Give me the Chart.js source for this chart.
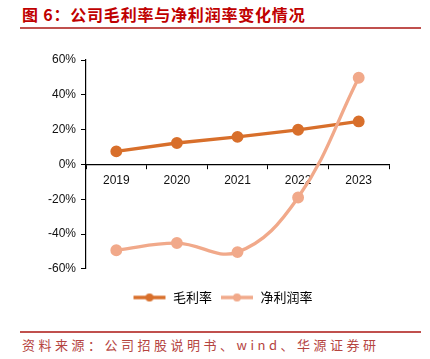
<!DOCTYPE html>
<html><head><meta charset="utf-8">
<script src="https://cdn.jsdelivr.net/npm/chart.js@4.4.1/dist/chart.umd.min.js"></script>
<style>
html,body{margin:0;padding:0;background:#fff;}
body{width:430px;height:359px;position:relative;overflow:hidden;}
#title{position:absolute;left:22px;top:4px;font-family:"Noto Sans CJK SC";font-weight:bold;font-size:16px;color:#C00000;white-space:nowrap;line-height:20px;letter-spacing:0.8px;}
#tline{position:absolute;left:20px;top:27px;width:401px;height:2px;background:#C0504D;}
#sline{position:absolute;left:20px;top:331px;width:401px;height:1.5px;background:#C0504D;}
#source{position:absolute;left:22px;top:336px;font-family:"Noto Sans CJK SC";font-size:13px;color:#B5443F;white-space:nowrap;letter-spacing:3.5px;line-height:18px;}
#wrap{position:absolute;left:0;top:36px;width:430px;height:278px;}
</style></head>
<body>
<div id="title">图 6：公司毛利率与净利润率变化情况</div>
<div id="tline"></div>
<div id="wrap"><canvas id="c"></canvas></div>
<div id="sline"></div>
<div id="source">资料来源：公司招股说明书、wind、华源证券研</div>
<script>
const categories = ['2019','2020','2021','2022','2023'];
const grossMargin = [7.5, 12.3, 15.8, 19.9, 24.7];
const netMargin = [-49.3, -45.2, -50.4, -19.0, 49.8];
const seriesNames = ['毛利率','净利润率'];
const yTicks = [-60, -40, -20, 0, 20, 40, 60];

const colors = ['#D86F2B', '#F1A98A'];

function legendIcon(color){
  const c = document.createElement('canvas');
  c.width = 34; c.height = 10;
  const g = c.getContext('2d');
  g.strokeStyle = color; g.lineWidth = 3.5;
  g.beginPath(); g.moveTo(1,5); g.lineTo(33,5); g.stroke();
  g.fillStyle = color; g.beginPath(); g.arc(17,5,4,0,Math.PI*2); g.fill();
  return c;
}
const icons = colors.map(legendIcon);

const legendShift = {
  id: 'legendShift',
  afterLayout(chart) {
    if (chart.legend) { chart.legend.left += 28; chart.legend.right += 28; }
  }
};

new Chart(document.getElementById('c'), {
  type: 'line',
  data: {
    labels: categories,
    datasets: [
      {label: seriesNames[0], data: grossMargin, borderColor: colors[0], backgroundColor: colors[0],
       borderWidth: 3.3, pointRadius: 4.3, pointHoverRadius: 4.3, tension: 0, order: 1},
      {label: seriesNames[1], data: netMargin, borderColor: colors[1], backgroundColor: colors[1],
       borderWidth: 3.3, pointRadius: 4.3, pointHoverRadius: 4.3, tension: 0.4, order: 0}
    ]
  },
  plugins: [legendShift],
  options: {
    responsive: true, maintainAspectRatio: false, animation: false,
    layout: {padding: {left: 0, right: 41, top: 24, bottom: 0}},
    plugins: {
      tooltip: {enabled: false},
      legend: {
        position: 'bottom',
        title: {display: true, text: ' ', font: {size: 1}, padding: {top: 0, bottom: 13}},
        labels: {
          usePointStyle: true, pointStyleWidth: 34, boxHeight: 10,
          padding: 8, color: '#000',
          font: {family: '"Noto Sans CJK SC"', size: 13},
          generateLabels(chart) {
            const items = Chart.defaults.plugins.legend.labels.generateLabels(chart);
            items.sort((a, b) => a.datasetIndex - b.datasetIndex);
            items.forEach(it => { it.pointStyle = icons[it.datasetIndex]; });
            return items;
          }
        }
      }
    },
    scales: {
      x: {
        position: {y: 0},
        offset: true,
        grid: {drawOnChartArea: false, drawTicks: true, tickLength: 4, color: '#000', offset: true},
        border: {display: true, color: '#000', width: 1.2},
        ticks: {color: '#111', font: {family: '"Liberation Sans"', size: 12}, padding: 5, maxRotation: 0}
      },
      y: {
        min: -60, max: 60,
        afterFit(s) { s.width = 86; },
        afterBuildTicks(s) { s.ticks = yTicks.map(v => ({value: v})); },
        grid: {drawOnChartArea: false, drawTicks: true, tickLength: 5, color: '#000'},
        border: {display: true, color: '#000', width: 1.2},
        ticks: {color: '#111', font: {family: '"Liberation Sans"', size: 12}, padding: 5,
          callback: v => v + '%'}
      }
    }
  }
});
</script>
</body></html>
